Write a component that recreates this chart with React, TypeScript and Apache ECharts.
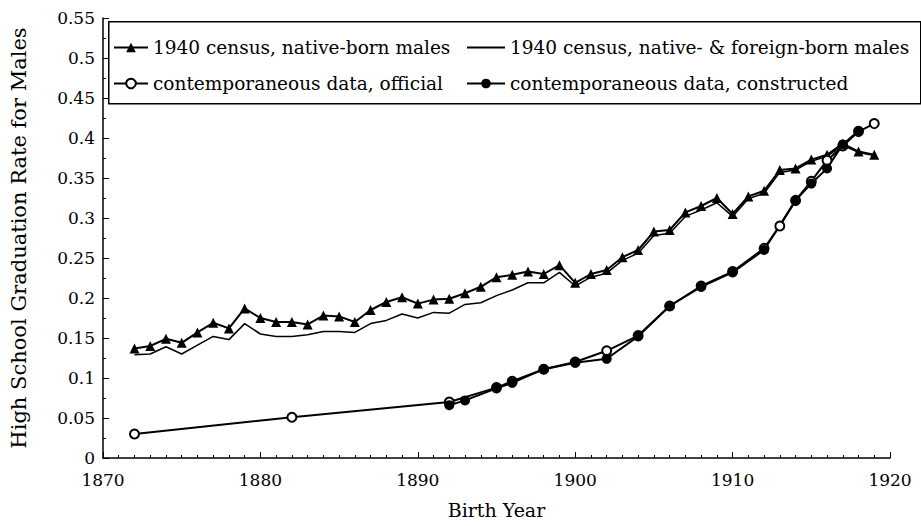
import React, { useEffect, useRef } from "react";
import * as echarts from "echarts";

const censusYears = [
  1872, 1873, 1874, 1875, 1876, 1877, 1878, 1879, 1880, 1881, 1882, 1883, 1884, 1885, 1886, 1887,
  1888, 1889, 1890, 1891, 1892, 1893, 1894, 1895, 1896, 1897, 1898, 1899, 1900, 1901, 1902, 1903,
  1904, 1905, 1906, 1907, 1908, 1909, 1910, 1911, 1912, 1913, 1914, 1915, 1916, 1917, 1918, 1919,
];
const nativeBorn = [
  0.137, 0.14, 0.149, 0.144, 0.157, 0.169, 0.162, 0.187, 0.175, 0.17, 0.17, 0.167, 0.178, 0.177, 0.17, 0.185,
  0.195, 0.201, 0.193, 0.198, 0.199, 0.206, 0.214, 0.226, 0.229, 0.233, 0.23, 0.241, 0.219, 0.23, 0.235, 0.251,
  0.26, 0.283, 0.285, 0.307, 0.315, 0.325, 0.305, 0.327, 0.334, 0.36, 0.362, 0.373, 0.379, 0.393, 0.383, 0.379,
];
const nativeForeign = [
  0.129, 0.13, 0.139, 0.13, 0.141, 0.152, 0.148, 0.168, 0.155, 0.152, 0.152, 0.154, 0.158, 0.158, 0.157, 0.168,
  0.172, 0.18, 0.175, 0.182, 0.181, 0.192, 0.194, 0.203, 0.21, 0.219, 0.219, 0.232, 0.215, 0.226, 0.231, 0.247,
  0.256, 0.278, 0.281, 0.302, 0.31, 0.319, 0.302, 0.324, 0.331, 0.357, 0.36, 0.371, 0.377, 0.391, 0.382, 0.378,
];
const officialYears = [
  1872, 1882, 1892, 1895, 1896, 1898, 1900, 1902, 1904, 1906, 1908, 1910, 1912, 1913, 1914, 1915, 1916, 1917, 1918, 1919,
];
const officialValues = [
  0.03, 0.051, 0.07, 0.088, 0.096, 0.111, 0.12, 0.134, 0.153, 0.19, 0.215, 0.233, 0.262, 0.29, 0.322, 0.346, 0.372, 0.39,
  0.408, 0.418,
];
const constructedYears = [
  1892, 1893, 1895, 1896, 1898, 1900, 1902, 1904, 1906, 1908, 1910, 1912, 1914, 1915, 1916, 1917, 1918,
];
const constructedValues = [
  0.066, 0.072, 0.087, 0.094, 0.111, 0.119, 0.124, 0.152, 0.19, 0.214, 0.232, 0.26, 0.322, 0.343, 0.362, 0.392, 0.409,
];

const seriesNames = [
  "1940 census, native-born males",
  "1940 census, native- & foreign-born males",
  "contemporaneous data, official",
  "contemporaneous data, constructed",
];

const FONT = "DejaVu Serif";

const zip = (xs: number[], ys: number[]) => xs.map((x, i) => [x, ys[i]]);

export default function App() {
  const ref = useRef<HTMLDivElement>(null);
  useEffect(() => {
    if (!ref.current) return;
    const chart = echarts.init(ref.current, null, { renderer: "svg" });
    const legendText = { fontFamily: FONT, fontSize: 18.5, color: "#000" };
    chart.setOption({
      animation: false,
      backgroundColor: "#fff",
      grid: { left: 96, right: 31, top: 18, bottom: 68 },
      legend: [
        {
          data: [seriesNames[0], seriesNames[2]],
          orient: "vertical",
          left: 113,
          top: 38,
          padding: 0,
          itemWidth: 34,
          itemHeight: 12,
          itemGap: 17,
          textStyle: legendText,
        },
        {
          data: [{ name: seriesNames[1], itemStyle: { opacity: 0 } }, seriesNames[3]],
          orient: "vertical",
          left: 466,
          top: 38,
          padding: 0,
          itemWidth: 38,
          itemHeight: 12,
          itemGap: 17,
          textStyle: legendText,
        },
      ],
      graphic: [
        {
          type: "rect",
          left: 108,
          top: 21,
          shape: { width: 812, height: 82 },
          style: { fill: "transparent", stroke: "#000", lineWidth: 1.5 },
          z: 0,
        },
      ],
      xAxis: {
        type: "value",
        min: 1870,
        max: 1920,
        interval: 10,
        name: "Birth Year",
        nameLocation: "middle",
        nameGap: 42,
        nameTextStyle: { fontFamily: FONT, fontSize: 19, color: "#000" },
        axisLine: { lineStyle: { color: "#000", width: 1.5 } },
        axisTick: { inside: true, length: 6, lineStyle: { color: "#000" } },
        minorTick: { show: true, splitNumber: 10, length: 3, lineStyle: { color: "#000" } },
        splitLine: { show: false },
        axisLabel: {
          fontFamily: FONT,
          fontSize: 17,
          color: "#000",
          margin: 13,
          formatter: (v: number) => String(v),
        },
      },
      yAxis: {
        type: "value",
        min: 0,
        max: 0.55,
        interval: 0.05,
        name: "High School Graduation Rate for Males",
        nameLocation: "middle",
        nameGap: 74,
        nameTextStyle: { fontFamily: FONT, fontSize: 21, color: "#000" },
        axisLine: { show: true, lineStyle: { color: "#000", width: 1.5 } },
        axisTick: { show: true, inside: true, length: 6, lineStyle: { color: "#000" } },
        minorTick: { show: true, splitNumber: 2, length: 3, lineStyle: { color: "#000" } },
        splitLine: { show: false },
        axisLabel: {
          fontFamily: FONT,
          fontSize: 17,
          color: "#000",
          margin: 8,
          formatter: (v: number) => String(+v.toFixed(2)),
        },
      },
      series: [
        {
          name: seriesNames[1],
          type: "line",
          data: zip(censusYears, nativeForeign),
          symbol: "none",
          color: "#000",
          lineStyle: { color: "#000", width: 1.5 },
          z: 2,
        },
        {
          name: seriesNames[0],
          type: "line",
          data: zip(censusYears, nativeBorn),
          symbol: "triangle",
          symbolSize: 10,
          color: "#000",
          itemStyle: { color: "#000" },
          lineStyle: { color: "#000", width: 2 },
          z: 3,
        },
        {
          name: seriesNames[2],
          type: "line",
          data: zip(officialYears, officialValues),
          symbol: "emptyCircle",
          symbolSize: 9,
          showAllSymbol: true,
          color: "#000",
          itemStyle: { color: "#000", borderWidth: 2 },
          lineStyle: { color: "#000", width: 2 },
          z: 3,
        },
        {
          name: seriesNames[3],
          type: "line",
          data: zip(constructedYears, constructedValues),
          symbol: "circle",
          symbolSize: 10,
          color: "#000",
          itemStyle: { color: "#000" },
          lineStyle: { color: "#000", width: 2 },
          z: 3,
        },
      ],
    });
    return () => chart.dispose();
  }, []);
  return (
    <div
      ref={ref}
      style={{ position: "fixed", left: 0, top: 0, width: 921, height: 526 }}
    />
  );
}
